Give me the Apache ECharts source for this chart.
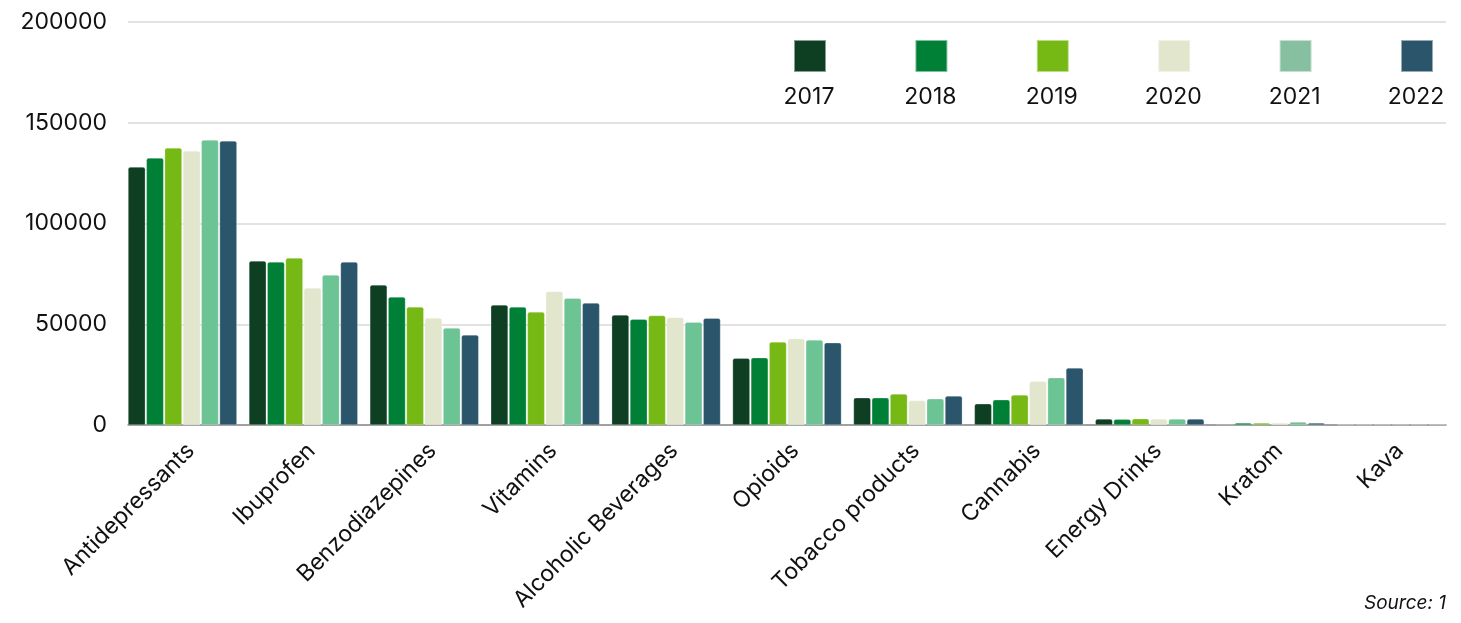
<!DOCTYPE html>
<html>
<head>
<meta charset="utf-8">
<script src="https://cdn.jsdelivr.net/npm/echarts@6/dist/echarts.min.js"></script>
<style>
html,body{margin:0;padding:0;background:#fff;}
#c{width:1461px;height:623px;}
</style>
</head>
<body>
<div id="c"></div>
<script>
const categories = ['Antidepressants','Ibuprofen','Benzodiazepines','Vitamins','Alcoholic Beverages','Opioids','Tobacco products','Cannabis','Energy Drinks','Kratom','Kava'];
const years = ['2017','2018','2019','2020','2021','2022'];
const v2017 = [128000, 81400, 69500, 59600, 54600, 33100, 13500, 10500, 3000, 400, 200];
const v2018 = [132500, 80900, 63500, 58600, 52500, 33400, 13500, 12500, 2800, 1000, 200];
const v2019 = [137500, 82900, 58600, 56100, 54300, 41200, 15400, 14900, 3100, 1000, 200];
const v2020 = [136000, 68000, 53100, 66200, 53400, 42800, 12100, 21700, 3000, 1000, 200];
const v2021 = [141400, 74400, 48100, 62900, 51000, 42200, 13000, 23500, 3000, 1500, 200];
const v2022 = [141000, 80900, 44700, 60500, 53000, 40800, 14400, 28300, 3000, 1000, 200];
const seriesValues = [v2017, v2018, v2019, v2020, v2021, v2022];
const yTicks = [0, 50000, 100000, 150000, 200000];
const barColors = ['#0f3f22','#007f36','#76b914','#e1e6cd','#6cc394','#2b556b'];
const legendColors = ['#0f3f22','#007f36','#76b914','#e1e6cd','#86c0a0','#2b556b'];

const FONT = 'Inter, Lato, sans-serif';
const chart = echarts.init(document.getElementById('c'), null, {renderer:'canvas'});

const legendLeft0 = 793, legendStep = 121.4;
const legends = years.map((y, i) => ({
  data: [{name: y, itemStyle: {color: legendColors[i]}}],
  left: legendLeft0 + i * legendStep,
  top: 39,
  itemWidth: 32,
  itemHeight: 32,
  icon: 'rect',
  formatter: () => '',
  selectedMode: false,
  padding: 0
}));
const legendTexts = years.map((y, i) => ({
  type: 'text',
  x: legendLeft0 + i * legendStep + 16,
  y: 97,
  style: {text: y, fill: '#111', font: '23px ' + FONT, textAlign: 'center', textVerticalAlign: 'middle'}
}));

const option = {
  backgroundColor: '#fff',
  animation: false,
  textStyle: {fontFamily: FONT},
  grid: [
    {left: 122, right: 9, top: 22, bottom: 198, containLabel: false},
    {left: 128, right: 15, top: 22, bottom: 198, containLabel: false}
  ],
  legend: legends,
  xAxis: [{
    type: 'category',
    gridIndex: 0,
    data: categories,
    axisLine: {show: false},
    axisTick: {show: false},
    axisLabel: {rotate: 45, fontSize: 23, color: '#111', fontFamily: FONT, margin: 14, interval: 0,
      align: 'right', verticalAlign: 'top'}
  }, {
    type: 'category',
    gridIndex: 1,
    data: categories,
    axisLine: {show: true, lineStyle: {color: '#8a8a8a', width: 1.5}},
    axisTick: {show: false},
    axisLabel: {show: false}
  }],
  yAxis: [{
    type: 'value',
    gridIndex: 0,
    min: 0, max: 200000, interval: 50000,
    axisLine: {show: false}, axisTick: {show: false},
    splitLine: {show: false}, axisLabel: {show: false}
  }, {
    type: 'value',
    gridIndex: 1,
    min: 0, max: 200000, interval: 50000,
    axisLine: {show: false},
    axisTick: {show: false},
    splitLine: {lineStyle: {color: '#d9d9d9', width: 1.5}},
    axisLabel: {fontSize: 23, color: '#111', fontFamily: FONT, margin: 21,
      formatter: v => yTicks.includes(v) ? String(v) : ''}
  }],
  graphic: legendTexts.concat([{
    type: 'text', right: 15, bottom: 10,
    style: {text: 'Source: 1', fill: '#111', font: 'italic 19px ' + FONT}
  }]),
  series: years.map((y, i) => ({
    name: y,
    type: 'bar',
    xAxisIndex: 0,
    yAxisIndex: 0,
    z: 3,
    data: seriesValues[i],
    barGap: '6%',
    barCategoryGap: '10%',
    itemStyle: {color: barColors[i], borderColor: 'rgba(255,255,255,0.5)', borderWidth: 0.5, borderRadius: [2,2,0,0]}
  }))
};
chart.setOption(option);
</script>
</body>
</html>
